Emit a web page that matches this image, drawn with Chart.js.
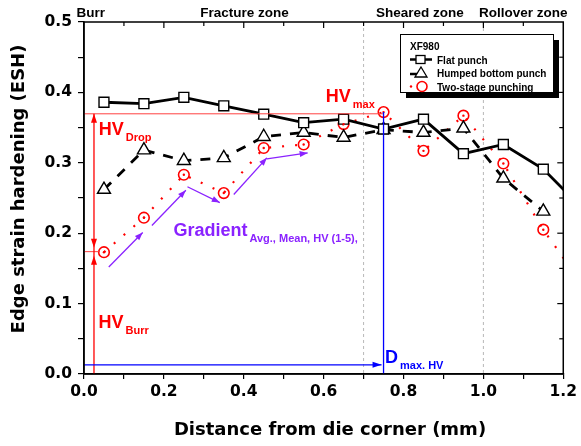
<!DOCTYPE html>
<html>
<head>
<meta charset="utf-8">
<script src="https://cdn.jsdelivr.net/npm/chart.js@4.4.0/dist/chart.umd.min.js"></script>
<style>
  html, body { margin: 0; padding: 0; background: #fff; }
</style>
</head>
<body>
<canvas id="esh" width="581" height="446"></canvas>
<script>
// data (XF980); last x is just past the axis, clipped
const distance   = [0.05, 0.15, 0.25, 0.35, 0.45, 0.55, 0.65, 0.75, 0.85, 0.95, 1.05, 1.15, 1.25];
const flatPunch  = [0.386, 0.384, 0.393, 0.381, 0.369, 0.357, 0.362, 0.348, 0.362, 0.313, 0.326, 0.291, 0.234];
const humped     = [0.262, 0.318, 0.303, 0.307, 0.337, 0.343, 0.336, 0.347, 0.343, 0.349, 0.278, 0.231, null];
const twoStage   = [0.173, 0.222, 0.283, 0.257, 0.321, 0.326, 0.355, 0.372, 0.317, 0.367, 0.299, 0.205, 0.125];
const seriesNames = ["Flat punch", "Humped bottom punch", "Two-stage punching"];

const xTicks = [0, 0.2, 0.4, 0.6, 0.8, 1.0, 1.2];
const yTicks = [0, 0.1, 0.2, 0.3, 0.4, 0.5];
const zoneBounds = [0.7, 1.0];
const zoneLabels = [["Burr", -0.019, "left"], ["Fracture zone", 0.402, "center"], ["Sheared zone", 0.841, "center"], ["Rollover zone", 1.1, "center"]];

// annotation values (data units)
const hvMax = 0.3696, hvBurr = 0.1738, xHvLine = 0.025, dMaxHV = 0.75, dArrowY = 0.013;
const gradientArrows = [
  [0.062, 0.152, 0.147, 0.201],
  [0.170, 0.211, 0.255, 0.261],
  [0.259, 0.266, 0.340, 0.2435],
  [0.375, 0.255, 0.458, 0.307],
  [0.458, 0.3056, 0.560, 0.314]
];

const TITLE = "bold 18px 'DejaVu Sans'";
const LAB = "'Liberation Sans', Arial, sans-serif";

function pts(ys) { return distance.map((x, i) => ({ x: x, y: ys[i] })); }
function radiusFn(r) { return c => (c.raw && c.raw.x > 1.2 ? 0 : r); }

function arrowHead(ctx, x1, y1, x2, y2, len, w) {
  const a = Math.atan2(y2 - y1, x2 - x1);
  ctx.beginPath();
  ctx.moveTo(x2, y2);
  ctx.lineTo(x2 - len * Math.cos(a) + w * Math.sin(a), y2 - len * Math.sin(a) - w * Math.cos(a));
  ctx.lineTo(x2 - len * Math.cos(a) - w * Math.sin(a), y2 - len * Math.sin(a) + w * Math.cos(a));
  ctx.closePath();
  ctx.fill();
}
function line(ctx, x1, y1, x2, y2) {
  ctx.beginPath(); ctx.moveTo(x1, y1); ctx.lineTo(x2, y2); ctx.stroke();
}
function subText(ctx, main, sub, x, y, size, subSize, color) {
  ctx.fillStyle = color;
  ctx.textAlign = "left"; ctx.textBaseline = "alphabetic";
  ctx.font = "bold " + size + "px " + LAB;
  ctx.fillText(main, x, y);
  const w = ctx.measureText(main).width;
  ctx.font = "bold " + subSize + "px " + LAB;
  ctx.fillText(sub, x + w + 2, y + 6);
}

const annotate = {
  id: "annotate",
  beforeDatasetsDraw(chart) {
    const { ctx, chartArea: a, scales: { x, y } } = chart;
    ctx.save();
    ctx.strokeStyle = "#b8b8b8"; ctx.lineWidth = 1; ctx.setLineDash([3, 3]);
    zoneBounds.forEach(v => line(ctx, x.getPixelForValue(v), a.top, x.getPixelForValue(v), a.bottom));
    ctx.restore();
  },
  afterDatasetsDraw(chart) {
    const { ctx, chartArea: a, scales: { x, y } } = chart;
    const X = v => x.getPixelForValue(v), Y = v => y.getPixelForValue(v);
    ctx.save();

    // dots in the centre of the two-stage circles
    ctx.fillStyle = "#ff0000";
    chart.getDatasetMeta(2).data.forEach((p, i) => {
      if (distance[i] > 1.2) return;
      ctx.beginPath(); ctx.arc(p.x, p.y, 1.2, 0, Math.PI * 2); ctx.fill();
    });

    // red HV lines
    ctx.strokeStyle = "#ff4040"; ctx.lineWidth = 1;
    line(ctx, X(0), Y(hvMax), X(dMaxHV), Y(hvMax));
    line(ctx, X(0), Y(hvBurr), X(0.04), Y(hvBurr));
    ctx.strokeStyle = "#ff0000"; ctx.fillStyle = "#ff0000"; ctx.lineWidth = 1.3;
    line(ctx, X(xHvLine), Y(0), X(xHvLine), Y(hvMax));
    arrowHead(ctx, X(xHvLine), Y(hvMax) + 10, X(xHvLine), Y(hvMax), 9, 3);
    arrowHead(ctx, X(xHvLine), Y(hvBurr) - 14, X(xHvLine), Y(hvBurr) - 4, 9, 3);
    arrowHead(ctx, X(xHvLine), Y(hvBurr) + 14, X(xHvLine), Y(hvBurr) + 4, 9, 3);

    // blue D max line
    ctx.strokeStyle = "#0000ff"; ctx.fillStyle = "#0000ff"; ctx.lineWidth = 1.3;
    line(ctx, X(dMaxHV), Y(0), X(dMaxHV), Y(twoStage[7]));
    line(ctx, X(0), Y(dArrowY), X(dMaxHV) - 2, Y(dArrowY));
    arrowHead(ctx, X(dMaxHV) - 12, Y(dArrowY), X(dMaxHV) - 2, Y(dArrowY), 9, 3);

    // purple gradient arrows
    ctx.strokeStyle = "#8a22ff"; ctx.fillStyle = "#8a22ff"; ctx.lineWidth = 1.3;
    gradientArrows.forEach(g => {
      line(ctx, X(g[0]), Y(g[1]), X(g[2]), Y(g[3]));
      arrowHead(ctx, X(g[0]), Y(g[1]), X(g[2]), Y(g[3]), 8, 3);
    });

    // labels
    subText(ctx, "HV", "Drop", X(0.037), Y(0.3397), 18, 11, "#ff0000");
    subText(ctx, "HV", "max", X(0.6055), Y(0.387), 18, 11, "#ff0000");
    subText(ctx, "HV", "Burr", X(0.0366), Y(0.065), 18, 11, "#ff0000");
    subText(ctx, "D", "max. HV", X(0.7537), Y(0.016), 18, 11, "#0000ff");
    subText(ctx, "Gradient", "Avg., Mean, HV (1-5),", X(0.2239), Y(0.1962), 18, 11, "#8a22ff");

    // zone labels above the frame
    ctx.fillStyle = "#000"; ctx.font = "bold 13.5px " + LAB; ctx.textBaseline = "alphabetic";
    zoneLabels.forEach(z => { ctx.textAlign = z[2]; ctx.fillText(z[0], X(z[1]), a.top - 5); });

    // frame + mirrored ticks
    ctx.strokeStyle = "#000"; ctx.lineWidth = 1.5; ctx.setLineDash([]);
    ctx.strokeRect(a.left, a.top, a.right - a.left, a.bottom - a.top);
    ctx.lineWidth = 1.2;
    for (let i = 1; i < 12; i++) { const px = X(i / 10); line(ctx, px, a.top, px, a.top + (i % 2 ? 4 : 6)); }
    for (let i = 1; i < 10; i++) { const py = Y(i / 20); line(ctx, a.right, py, a.right - (i % 2 ? 4 : 6), py); }

    // legend
    const lx = 400, ly = 34, lw = 153, lh = 58;
    ctx.fillStyle = "#000"; ctx.fillRect(lx + 6, ly + 6, lw, lh);
    ctx.fillStyle = "#fff"; ctx.fillRect(lx, ly, lw, lh);
    ctx.lineWidth = 1; ctx.strokeRect(lx + 0.5, ly + 0.5, lw, lh);
    ctx.fillStyle = "#000"; ctx.font = "bold 10px " + LAB; ctx.textAlign = "left";
    ctx.fillText("XF980", 410, 50);
    const rows = [59.5, 73, 86.5];
    rows.forEach((ry, i) => ctx.fillText(seriesNames[i], 437, ry + 4));
    // flat punch symbol
    ctx.lineWidth = 2.5; line(ctx, 410, rows[0], 432, rows[0]);
    ctx.lineWidth = 1.3; ctx.fillStyle = "#fff";
    ctx.fillRect(416, rows[0] - 4, 9, 8); ctx.strokeRect(416, rows[0] - 4, 9, 8);
    // humped symbol
    ctx.lineWidth = 2.5; line(ctx, 410, rows[1] + 1, 418, rows[1] + 1);
    ctx.lineWidth = 1.3; ctx.beginPath();
    ctx.moveTo(421, rows[1] - 6); ctx.lineTo(427, rows[1] + 4); ctx.lineTo(415, rows[1] + 4); ctx.closePath();
    ctx.fill(); ctx.stroke();
    // two-stage symbol
    ctx.fillStyle = "#ff0000"; ctx.strokeStyle = "#ff0000";
    ctx.beginPath(); ctx.arc(411, rows[2], 1.2, 0, Math.PI * 2); ctx.fill();
    ctx.lineWidth = 1.6; ctx.beginPath(); ctx.arc(422, rows[2], 5, 0, Math.PI * 2); ctx.stroke();

    // axis titles
    ctx.fillStyle = "#000"; ctx.font = TITLE; ctx.textAlign = "center"; ctx.textBaseline = "middle";
    ctx.fillText("Distance from die corner (mm)", 330, 430);
    ctx.translate(19, 189); ctx.rotate(-Math.PI / 2);
    ctx.fillText("Edge strain hardening (ESH)", 0, 0);
    ctx.restore();
  }
};

new Chart(document.getElementById("esh").getContext("2d"), {
  type: "line",
  data: {
    datasets: [
      { label: seriesNames[0], data: pts(flatPunch), borderColor: "#000", borderWidth: 2.8,
        pointStyle: "rect", pointRadius: radiusFn(7), pointBorderWidth: 1.4,
        pointBorderColor: "#000", pointBackgroundColor: "#fff" },
      { label: seriesNames[1], data: pts(humped), borderColor: "#000", borderWidth: 2.8, borderDash: [10, 9],
        pointStyle: "triangle", pointRadius: radiusFn(7.5), pointBorderWidth: 1.4,
        pointBorderColor: "#000", pointBackgroundColor: "#fff" },
      { label: seriesNames[2], data: pts(twoStage), borderColor: "#ff0000", borderWidth: 2.2, borderDash: [2, 11],
        pointStyle: "circle", pointRadius: radiusFn(5.3), pointBorderWidth: 1.6,
        pointBorderColor: "#ff0000", pointBackgroundColor: "rgba(255,255,255,0)" }
    ]
  },
  options: {
    responsive: false,
    animation: false,
    layout: { padding: { top: 22, right: 15, left: 0, bottom: 0 } },
    plugins: { legend: { display: false }, tooltip: { enabled: false } },
    scales: {
      x: {
        type: "linear", min: 0, max: 1.2,
        afterFit: s => { s.height = 72; },
        afterBuildTicks: s => { s.ticks = Array.from({ length: 13 }, (_, i) => ({ value: i / 10 })); },
        ticks: { autoSkip: false, maxRotation: 0, padding: 4, color: "#000", font: { family: "DejaVu Sans", size: 15.5, weight: "bold" },
          callback: v => { const t = Math.round(v * 10); return xTicks.some(k => Math.round(k * 10) === t) ? v.toFixed(1) : ""; } },
        grid: { drawOnChartArea: false, drawTicks: true, tickLength: 5, color: "#000", lineWidth: 1.2 },
        border: { display: true, color: "#000", width: 1.5 }
      },
      y: {
        min: 0, max: 0.5,
        afterFit: s => { s.width = 84; },
        afterBuildTicks: s => { s.ticks = Array.from({ length: 11 }, (_, i) => ({ value: i / 20 })); },
        ticks: { autoSkip: false, padding: 6, color: "#000", font: { family: "DejaVu Sans", size: 15.5, weight: "bold" },
          callback: v => { const t = Math.round(v * 20); return yTicks.some(k => Math.round(k * 20) === t) ? v.toFixed(1) : ""; } },
        grid: { drawOnChartArea: false, drawTicks: true, tickLength: 6, color: "#000", lineWidth: 1.2 },
        border: { display: true, color: "#000", width: 1.5 }
      }
    }
  },
  plugins: [annotate]
});
</script>
</body>
</html>
